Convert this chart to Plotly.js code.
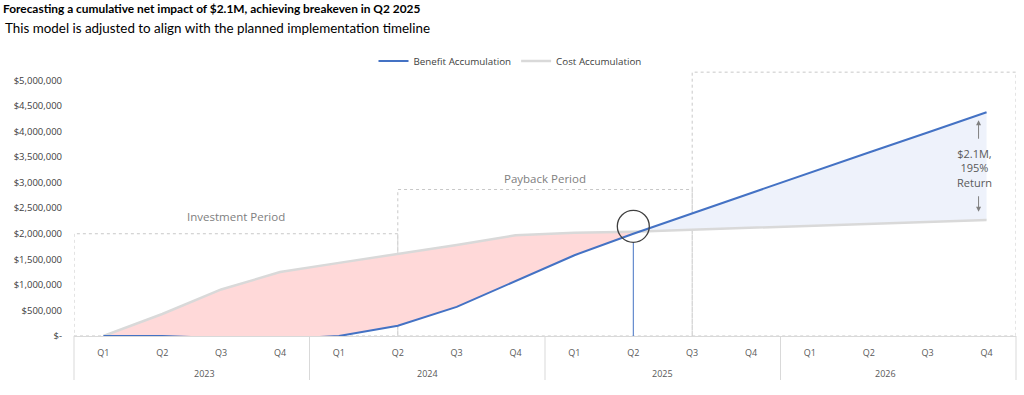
<!DOCTYPE html>
<html>
<head>
<meta charset="utf-8">
<script src="https://cdn.plot.ly/plotly-3.0.1.min.js"></script>
<style>
  html, body { margin: 0; padding: 0; background: #fff; }
  #chart { width: 1024px; height: 395px; }
</style>
</head>
<body>
<div id="chart"></div>
<script>
// ---- data ----
const years = ['2023', '2024', '2025', '2026'];
const quarters = ['Q1','Q2','Q3','Q4','Q1','Q2','Q3','Q4','Q1','Q2','Q3','Q4','Q1','Q2','Q3','Q4'];
const benefitAccumulation = [0, 0, -40000, -60000, 0, 200000, 570000, 1080000, 1580000, 2000000, 2400000, 2800000, 3190000, 3590000, 3980000, 4375000];
const costAccumulation = [0, 430000, 910000, 1250000, 1430000, 1600000, 1780000, 1970000, 2020000, 2040000, 2080000, 2120000, 2160000, 2190000, 2230000, 2270000];
const yTickVals = [0, 500000, 1000000, 1500000, 2000000, 2500000, 3000000, 3500000, 4000000, 4500000, 5000000];
const yTickText = ['$-', '$500,000', '$1,000,000', '$1,500,000', '$2,000,000', '$2,500,000', '$3,000,000', '$3,500,000', '$4,000,000', '$4,500,000', '$5,000,000'];
const periodLabels = ['Investment Period', 'Payback Period', 'Benefits Realization'];
const returnLabel = '$2.1M,<br>195%<br>Return';

// ---- derived ----
const idx = quarters.map((_, i) => i);
// insert crossing points for fill areas
const fx = [], fb = [], fc = [];
for (let i = 0; i < idx.length; i++) {
  fx.push(i); fb.push(benefitAccumulation[i]); fc.push(costAccumulation[i]);
  if (i < idx.length - 1) {
    const d0 = benefitAccumulation[i] - costAccumulation[i];
    const d1 = benefitAccumulation[i+1] - costAccumulation[i+1];
    if (d0 * d1 < 0) {
      const t = d0 / (d0 - d1);
      const yc = costAccumulation[i] + t * (costAccumulation[i+1] - costAccumulation[i]);
      fx.push(i + t); fb.push(yc); fc.push(yc);
    }
  }
}
const pinkLower = fx.map((_, k) => Math.min(fb[k], fc[k]));
const pinkUpper = fc.slice();
const blueLower = fc.slice();
const blueUpper = fx.map((_, k) => Math.max(fb[k], fc[k]));

const BLUE = '#4472C4', GRAY = '#D9D9D9';
const labelFont = 'Open Sans, sans-serif';
const titleFont = 'Lato, Liberation Sans, sans-serif';

const traces = [
  {x: fx, y: pinkLower, mode: 'lines', line: {width: 0}, showlegend: false, hoverinfo: 'skip'},
  {x: fx, y: pinkUpper, mode: 'lines', line: {width: 0}, fill: 'tonexty', fillcolor: '#FFD9D9', showlegend: false, hoverinfo: 'skip'},
  {x: fx, y: blueLower, mode: 'lines', line: {width: 0}, showlegend: false, hoverinfo: 'skip'},
  {x: fx, y: blueUpper, mode: 'lines', line: {width: 0}, fill: 'tonexty', fillcolor: '#EEF2FB', showlegend: false, hoverinfo: 'skip'},
  {x: idx, y: costAccumulation, name: 'Cost Accumulation', mode: 'lines', line: {color: GRAY, width: 2.5}, legendrank: 2},
  {x: idx, y: benefitAccumulation, name: 'Benefit Accumulation', mode: 'lines', line: {color: BLUE, width: 2}, legendrank: 1}
];

const plotL = 74, plotR = 1016, plotTop = 65, plotBot = 336;
const plotH = plotBot - plotTop;
const pyPaper = px => (plotBot - px) / plotH; // pixel y -> paper y

const dividerShapes = [0, 0.25, 0.5, 0.75, 1].map(p => ({
  type: 'line', xref: 'paper', yref: 'paper', x0: p, x1: p, y0: 0, y1: pyPaper(380),
  line: {color: GRAY, width: 1}
}));

const boxLine = {color: '#C8C8C8', width: 1, dash: 'dot'};
const shapes = [
  {type: 'rect', xref: 'x', yref: 'y', x0: -0.5, x1: 5, y0: 0, y1: 2000000, line: boxLine, layer: 'below'},
  {type: 'rect', xref: 'x', yref: 'y', x0: 5, x1: 10, y0: 0, y1: 2865000, line: boxLine, layer: 'below'},
  {type: 'rect', xref: 'x', yref: 'y', x0: 10, x1: 15.5, y0: 0, y1: 5160000, line: boxLine, layer: 'below'},
  {type: 'line', xref: 'x', yref: 'y', x0: 9, x1: 9, y0: 0, y1: 1826000, line: {color: BLUE, width: 1}},
  {type: 'circle', xref: 'x', yref: 'y', xsizemode: 'pixel', ysizemode: 'pixel',
   xanchor: 9, yanchor: 2145000, x0: -16, x1: 16, y0: -16, y1: 16,
   line: {color: '#404040', width: 1.3}}
].concat(dividerShapes);

const annotations = [
  {xref: 'paper', yref: 'paper', x: (3 - plotL) / (plotR - plotL), xanchor: 'left', y: pyPaper(28.5), yanchor: 'middle',
   text: 'This model is adjusted to align with the planned implementation timeline', showarrow: false,
   font: {family: titleFont, size: 13.4, color: '#000'}},
  {xref: 'x', yref: 'y', x: 2.25, y: 2340000, text: periodLabels[0], showarrow: false,
   font: {family: labelFont, size: 11.5, color: '#808080'}},
  {xref: 'x', yref: 'y', x: 7.5, y: 3086000, text: periodLabels[1], showarrow: false,
   font: {family: labelFont, size: 11.5, color: '#808080'}},
  {xref: 'x', yref: 'y', x: 12.75, y: 5470000, text: periodLabels[2], showarrow: false,
   font: {family: labelFont, size: 11.5, color: '#808080'}},
  {xref: 'x', yref: 'y', x: 15, xshift: -12, y: 3280000, text: returnLabel, showarrow: false,
   font: {family: labelFont, size: 11, color: '#595959'}},
  {xref: 'x', yref: 'y', x: 15, xshift: -8, y: 4220000, ax: 0, ay: 20, text: '', showarrow: true,
   arrowhead: 2, arrowsize: 1, arrowwidth: 1, arrowcolor: '#808080', standoff: 0},
  {xref: 'x', yref: 'y', x: 15, xshift: -8, y: 2430000, ax: 0, ay: -17, text: '', showarrow: true,
   arrowhead: 2, arrowsize: 1, arrowwidth: 1, arrowcolor: '#808080', standoff: 0}
].concat(years.map((yr, i) => ({
  xref: 'paper', yref: 'paper', x: 0.125 + 0.25 * i, y: pyPaper(373), yanchor: 'middle',
  text: yr, showarrow: false, font: {family: labelFont, size: 9, color: '#595959'}
})));

const layout = {
  width: 1024, height: 395,
  margin: {l: plotL, r: 1024 - plotR, t: plotTop, b: 395 - plotBot},
  paper_bgcolor: '#fff', plot_bgcolor: '#fff',
  title: {text: '<b>Forecasting a cumulative net impact of $2.1M, achieving breakeven in Q2 2025</b>',
          x: 3 / 1024, xanchor: 'left', xref: 'container', yref: 'container', y: 0.987, yanchor: 'top',
          font: {family: titleFont, size: 11.9, color: '#000'}},
  showlegend: true,
  legend: {orientation: 'h', x: (510 - plotL) / (plotR - plotL), xanchor: 'center', y: pyPaper(61), yanchor: 'middle',
           font: {family: labelFont, size: 9.8, color: '#404040'}, traceorder: 'normal', bgcolor: 'rgba(0,0,0,0)'},
  xaxis: {range: [-0.5, 15.5], tickvals: idx, ticktext: quarters, showgrid: false, zeroline: false,
          showline: true, linecolor: GRAY, linewidth: 1, ticks: '', ticklabelstandoff: 8,
          tickfont: {family: labelFont, size: 9, color: '#595959'}, fixedrange: true},
  yaxis: {range: [0, 5300000], tickvals: yTickVals, ticktext: yTickText, showgrid: false, zeroline: false,
          showline: false, ticks: '', ticklabelstandoff: 11,
          tickfont: {family: labelFont, size: 9.5, color: '#404040'}, fixedrange: true},
  shapes: shapes,
  annotations: annotations
};

Plotly.newPlot('chart', traces, layout, {displayModeBar: false, staticPlot: true});
</script>
</body>
</html>
